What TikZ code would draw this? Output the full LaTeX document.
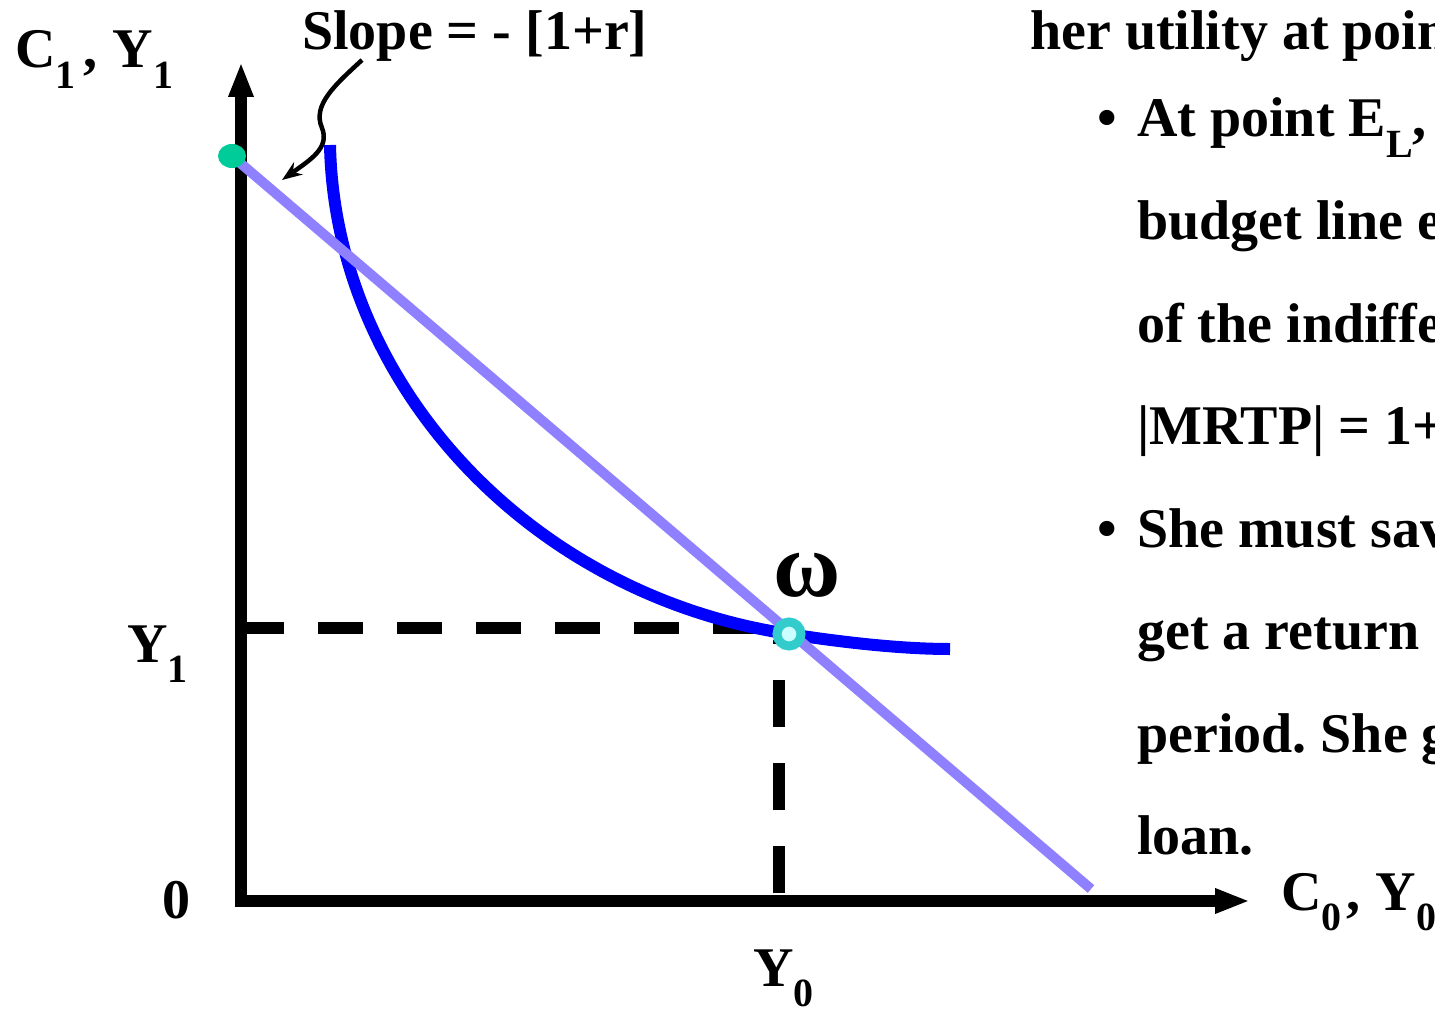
\documentclass[tikz,border=0pt]{standalone}
\usepackage{fontspec}
\setmainfont{Liberation Serif}
\usepackage{tikz}
\usetikzlibrary{arrows.meta}
\definecolor{budgetLila}{RGB}{143,128,255}
\definecolor{curveBlue}{RGB}{0,0,255}
\definecolor{dotGreen}{RGB}{0,204,153}
\definecolor{omegaTeal}{RGB}{51,204,204}
\definecolor{omegaCore}{RGB}{204,255,255}
\newcommand{\sub}[1]{\raisebox{-0.37em}{\fontsize{40}{40}\selectfont #1}}
\frenchspacing

\begin{document}
\begin{tikzpicture}[x=1pt,y=-1pt,
  lbl/.style={font=\fontsize{56}{60}\selectfont\bfseries, inner sep=0pt, anchor=base west},
  axis/.style={line width=12pt, line join=miter,
    {Triangle[length=35pt,width=23pt]}-{Triangle[length=35pt,width=23pt]}},
  guide/.style={line width=12pt, dash pattern=on 45pt off 34pt}]
  \useasboundingbox (0,0) rectangle (1435,1014);
  \clip (0,0) rectangle (1435,1014);
  % Ejes
  \coordinate (O) at (241,901);
  \coordinate (xend) at (1250,901);
  \coordinate (yend) at (241,62);
  \draw[axis] (yend) -- (O) -- (xend);
  % Lineas guia
  \coordinate (y1) at (239,627.5);
  \coordinate (y1end) at (776,627.5);
  \draw[guide] (y1) -- (y1end);
  \coordinate (y0) at (778.5,893);
  \coordinate (y0end) at (778.5,640);
  \draw[guide, dash pattern=on 47pt off 36pt] (y0) -- (y0end);
  % Curva de indiferencia
  \coordinate (W) at (789,634);
  \draw[curveBlue, line width=12pt] (330,145) .. controls (335,385) and (530,595) .. (W)
    .. controls (840,642) and (900,649) .. (950,649);
  % Recta presupuestaria
  \coordinate (A) at (232,156);
  \coordinate (B) at (1091,889);
  \draw[budgetLila, line width=10pt] (A) -- (B);
  \fill[dotGreen] (A) ellipse (14 and 12);
  \draw[omegaTeal, fill=omegaCore, line width=9pt] (W) circle (12);
  \node[font=\fontsize{92}{92}\selectfont\bfseries, inner sep=0pt] (omega) at (807,575) {ω};
  % Pendiente
  \node[lbl] (slope) at (302,50) {Slope = - [1+r]};
  \coordinate (slopetail) at (362,60);
  \coordinate (slopetip) at (282,180);
  \draw[line width=4.5pt, -{Stealth[length=20pt,width=15pt]}] (slopetail)
    .. controls (335,85) and (312,105) .. (322,128)
    .. controls (330,148) and (310,160) .. (slopetip);
  % Etiquetas de ejes
  \node[lbl] (c1y1) at (15,68) {C\sub{1}\hspace{8pt}, \hspace{1pt}Y\sub{1}};
  \node[lbl] (ylab1) at (127,662) {Y\sub{1}};
  \node[lbl, anchor=center] (zero) at (176,900) {0};
  \node[lbl] (ylab0) at (753,986) {Y\sub{0}};
  \node[lbl] (c0y0) at (1281,910) {C\sub{0}\hspace{5pt}, \hspace{1pt}Y\sub{0}};
  % Texto
  \node[lbl] (t0) at (1030,50) {her utility at poin};
  \node[lbl] (b1) at (1097,137) {\textbullet};
  \node[lbl] (t1) at (1137,137) {At point E\sub{L},};
  \node[lbl] (t2) at (1137,239.5) {budget line e};
  \node[lbl] (t3) at (1137,342) {of the indiffe};
  \node[lbl] (t4) at (1137,444.5) {|MRTP| = 1+};
  \node[lbl] (b2) at (1097,547) {\textbullet};
  \node[lbl] (t5) at (1137,547) {She must sav};
  \node[lbl] (t6) at (1137,649.5) {get a return};
  \node[lbl] (t7) at (1137,752) {period. She g};
  \node[lbl] (t8) at (1137,854.5) {loan.};
\end{tikzpicture}
\end{document}
